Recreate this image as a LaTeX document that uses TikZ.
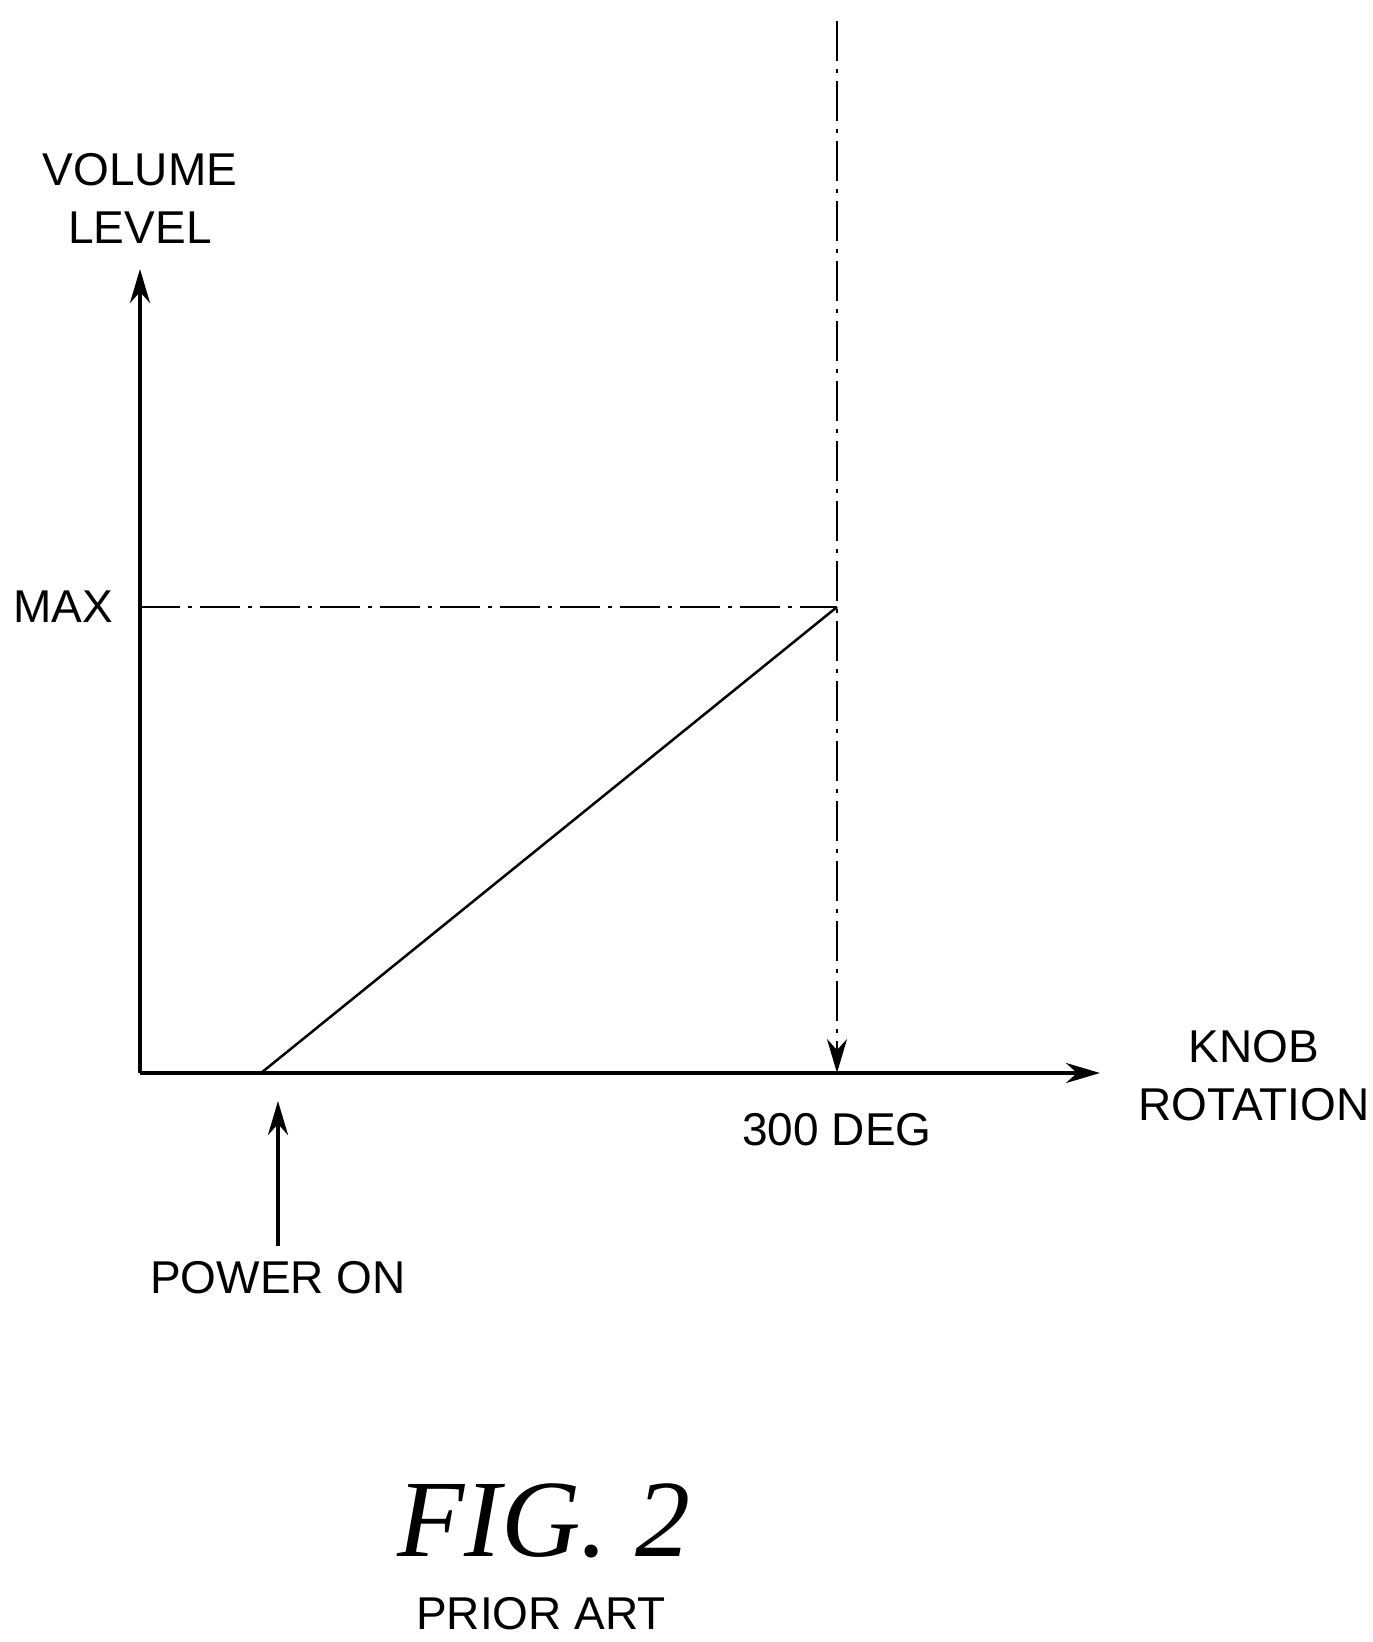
\documentclass[tikz,border=0pt]{standalone}
\usepackage{fontspec}
\setmainfont{Liberation Sans}
\newfontfamily\serifit{Liberation Serif}
\usetikzlibrary{arrows.meta}
\begin{document}
\begin{tikzpicture}[x=1pt,y=-1pt,
  lbl/.style={font=\fontsize{46}{58}\selectfont, inner sep=0pt, align=center},
  ax/.style={line width=4pt},
  tip/.style={-{Stealth[length=34pt,width=20pt]}},
  dd/.style={line width=2.5pt, dash pattern=on 40pt off 8pt on 4pt off 8pt}]
\useasboundingbox (0,0) rectangle (1373,1642);
\coordinate (O) at (140,1073);
\coordinate (Ytop) at (140,269);
\coordinate (Xend) at (1100,1073);
\coordinate (P) at (261,1073);
\coordinate (M) at (837,607);
\coordinate (Mleft) at (140,607);
\coordinate (Vtop) at (837,21);
\coordinate (D) at (837,1073);
\coordinate (Pa) at (278,1246);
\coordinate (Pb) at (278,1101);
\draw[ax,tip] (O) -- (Ytop);
\draw[ax,tip] (O) -- (Xend);
\draw[line width=2.5pt] (P) -- (M);
\draw[dd] (Mleft) -- (M);
\draw[dd,tip] (Vtop) -- (D);
\draw[ax,tip] (Pa) -- (Pb);
\node[lbl] (vol) at (140,198) {VOLUME\\LEVEL};
\node[lbl] (max) at (63,607) {MAX};
\node[lbl] (deg) at (837,1130) {300 DEG};
\node[lbl] (knob) at (1254,1076) {KNOB\\ROTATION};
\node[lbl] (pow) at (278,1278) {POWER ON};
\node[inner sep=0pt, font=\serifit\itshape\fontsize{110}{120}\selectfont] (fig) at (544,1521) {FIG. 2};
\node[lbl] (prior) at (541,1614) {PRIOR ART};
\end{tikzpicture}
\end{document}
